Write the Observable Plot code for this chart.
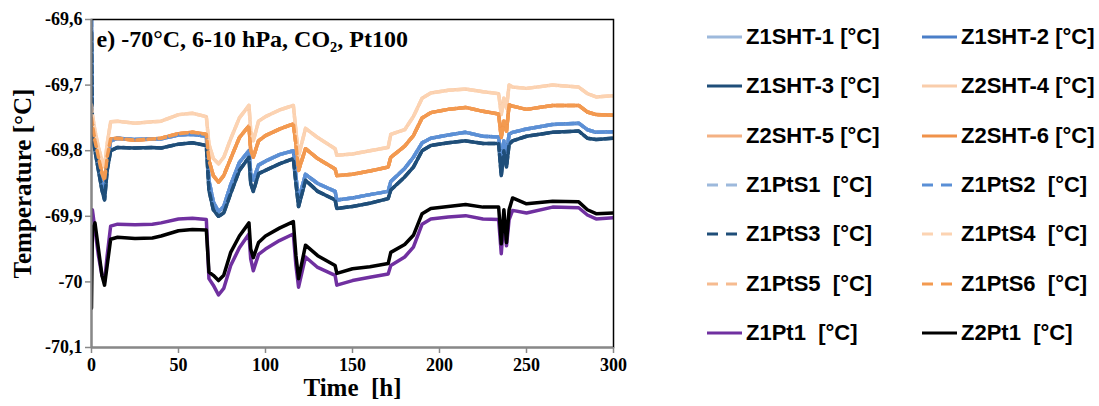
<!DOCTYPE html>
<html>
<head>
<meta charset="utf-8">
<script src="https://cdn.jsdelivr.net/npm/d3@7"></script>
<script src="https://cdn.jsdelivr.net/npm/@observablehq/plot@0.6"></script>
<style>
  html, body { margin: 0; padding: 0; background: #fff; }
  #wrap { position: relative; width: 1099px; height: 406px; overflow: hidden; }
  #chart { position: absolute; left: 0; top: 0; }
  .lg { position: absolute; display: flex; align-items: center; font-family: "Liberation Sans", Arial, sans-serif; font-weight: bold; font-size: 22px; color: #000; white-space: pre; }
  .lg svg { margin-right: 3px; }
</style>
</head>
<body>
<div id="wrap"><div id="chart"></div></div>
<script>
// ---- data ----
const time = [0, 0.5, 2, 4, 6, 7.5, 9, 11, 15, 25, 35, 40, 50, 58, 66, 67.5, 70, 73, 76, 80, 85, 90.5, 91.5, 93, 96, 100, 108, 116, 117.5, 119, 123, 130, 140, 141, 150, 160, 170.5, 172, 180, 185, 190, 195, 205, 215, 225, 234, 235.5, 237, 238.5, 240, 242, 250, 265, 280, 285, 290, 300];

const z2pt1 = [-70.04, -69.92, -69.91, -69.95, -69.99, -70.005, -69.975, -69.935, -69.932, -69.934, -69.933, -69.93, -69.922, -69.92, -69.921, -69.985, -69.99, -69.998, -69.99, -69.955, -69.93, -69.91, -69.95, -69.963, -69.94, -69.93, -69.918, -69.908, -69.96, -69.995, -69.944, -69.96, -69.975, -69.987, -69.98, -69.977, -69.972, -69.955, -69.943, -69.929, -69.896, -69.888, -69.885, -69.882, -69.886, -69.886, -69.942, -69.89, -69.94, -69.89, -69.872, -69.881, -69.877, -69.878, -69.89, -69.896, -69.895];

const z1pt1 = [-69.89, -69.89, -69.92, -69.96, -69.99, -70.0, -69.96, -69.915, -69.912, -69.913, -69.912, -69.91, -69.904, -69.903, -69.905, -69.995, -70.005, -70.02, -70.01, -69.975, -69.948, -69.927, -69.965, -69.983, -69.958, -69.95, -69.937, -69.927, -69.975, -70.008, -69.962, -69.978, -69.99, -70.005, -69.998, -69.993, -69.988, -69.975, -69.962, -69.947, -69.912, -69.904, -69.901, -69.899, -69.904, -69.905, -69.957, -69.905, -69.945, -69.905, -69.891, -69.895, -69.886, -69.887, -69.898, -69.904, -69.902];

const darkBlue = [-69.62, -69.77, -69.80, -69.83, -69.86, -69.875, -69.83, -69.80, -69.795, -69.796, -69.795, -69.796, -69.79, -69.788, -69.792, -69.86, -69.89, -69.90, -69.895, -69.865, -69.83, -69.81, -69.85, -69.862, -69.835, -69.83, -69.82, -69.812, -69.85, -69.885, -69.845, -69.862, -69.875, -69.888, -69.885, -69.88, -69.873, -69.86, -69.84, -69.825, -69.80, -69.792, -69.788, -69.785, -69.789, -69.789, -69.838, -69.80, -69.825, -69.79, -69.785, -69.778, -69.772, -69.77, -69.781, -69.783, -69.781];

const lightBlue = [-69.60, -69.76, -69.79, -69.82, -69.85, -69.865, -69.82, -69.785, -69.781, -69.783, -69.782, -69.782, -69.776, -69.775, -69.778, -69.845, -69.878, -69.893, -69.885, -69.852, -69.818, -69.80, -69.835, -69.845, -69.822, -69.816, -69.806, -69.80, -69.84, -69.875, -69.836, -69.85, -69.862, -69.875, -69.872, -69.867, -69.862, -69.847, -69.827, -69.81, -69.788, -69.781, -69.776, -69.772, -69.778, -69.779, -69.815, -69.785, -69.805, -69.775, -69.772, -69.767, -69.76, -69.758, -69.768, -69.772, -69.771];

const orange = [-69.75, -69.76, -69.785, -69.81, -69.835, -69.845, -69.81, -69.782, -69.781, -69.784, -69.782, -69.781, -69.774, -69.772, -69.775, -69.815, -69.838, -69.848, -69.838, -69.812, -69.78, -69.762, -69.80, -69.81, -69.785, -69.777, -69.767, -69.759, -69.79, -69.83, -69.797, -69.812, -69.828, -69.838, -69.836, -69.831, -69.825, -69.81, -69.793, -69.777, -69.75, -69.742, -69.737, -69.734, -69.74, -69.744, -69.78, -69.755, -69.77, -69.73, -69.732, -69.737, -69.731, -69.731, -69.741, -69.745, -69.746];

const peach = [-69.73, -69.745, -69.77, -69.795, -69.815, -69.825, -69.79, -69.756, -69.755, -69.758, -69.756, -69.755, -69.745, -69.743, -69.748, -69.79, -69.812, -69.82, -69.81, -69.782, -69.75, -69.731, -69.77, -69.785, -69.755, -69.748, -69.738, -69.731, -69.77, -69.808, -69.766, -69.78, -69.797, -69.807, -69.805, -69.80, -69.795, -69.775, -69.768, -69.748, -69.72, -69.712, -69.708, -69.706, -69.71, -69.713, -69.745, -69.72, -69.735, -69.70, -69.703, -69.705, -69.70, -69.703, -69.713, -69.718, -69.716];

const seriesNames = ["Z1SHT-1 [°C]", "Z1SHT-2 [°C]", "Z1SHT-3 [°C]", "Z2SHT-4 [°C]", "Z2SHT-5 [°C]", "Z2SHT-6 [°C]",
  "Z1PtS1  [°C]", "Z1PtS2  [°C]", "Z1PtS3  [°C]", "Z1PtS4  [°C]", "Z1PtS5  [°C]", "Z1PtS6  [°C]", "Z1Pt1  [°C]", "Z2Pt1  [°C]"];
const seriesValues = [lightBlue, lightBlue, darkBlue, peach, orange, orange,
  lightBlue, lightBlue, darkBlue, peach, orange, orange, z1pt1, z2pt1];
const seriesColors = ["#9db9dc", "#4a7ec8", "#1f4e79", "#f9cdab", "#f4b183", "#f0924a",
  "#9db9dc", "#5a8fd6", "#1f4e79", "#fcd3b2", "#f6bb90", "#f39a50", "#7030a0", "#000000"];
const seriesDashed = [false, false, false, false, false, false, true, true, true, true, true, true, false, false];

const xTicks = [0, 50, 100, 150, 200, 250, 300];
const yTicks = [-70.1, -70, -69.9, -69.8, -69.7, -69.6];
const titleText = "e) -70°C, 6-10 hPa, CO₂, Pt100";
const xLabel = "Time  [h]";
const yLabel = "Temperature [°C]";

// ---- build ----
const fmt = d => String(+d.toFixed(1)).replace(".", ",");
const drawOrder = [4, 10, 0, 1, 2, 3, 5, 6, 7, 8, 9, 11, 12, 13];
const lineMarks = drawOrder.map(k => {
  const rows = time.map((t, i) => ({t, v: seriesValues[k][i]}));
  return Plot.line(rows, {x: "t", y: "v", stroke: seriesColors[k], strokeWidth: 3.5,
    strokeDasharray: seriesDashed[k] ? "7,4" : null, clip: true, curve: "linear"});
});

const plot = Plot.plot({
  width: 640, height: 406,
  marginLeft: 91, marginTop: 19, marginRight: 27, marginBottom: 59,
  style: {fontFamily: "'Liberation Serif', 'Times New Roman', serif", fontSize: "18px", fontWeight: "bold", color: "#000", background: "#fff"},
  x: {domain: [0, 300]},
  y: {domain: [-70.1, -69.6]},
  marks: [
    ...lineMarks,
    Plot.frame({stroke: "#000", strokeWidth: 1.5}),
    Plot.ruleX([0], {stroke: "#888", strokeWidth: 2}),
    Plot.ruleY([-70.1], {stroke: "#888", strokeWidth: 2}),
    Plot.axisX({ticks: xTicks, tickFormat: fmt, tickSize: 6, tickPadding: 5, stroke: "#888", strokeWidth: 1.5, fill: "#000", label: null}),
    Plot.axisY({ticks: yTicks, tickFormat: fmt, tickSize: 6, tickPadding: 3, stroke: "#888", strokeWidth: 1.5, fill: "#000", label: null}),
    Plot.text([titleText], {frameAnchor: "top-left", dx: 5, dy: 20, textAnchor: "start", lineAnchor: "middle", fontSize: 24, fontWeight: "bold", fill: "#000"}),
    Plot.text([yLabel], {frameAnchor: "left", dx: -69, rotate: -90, textAnchor: "middle", fontSize: 25, fontWeight: "bold", fill: "#000"}),
    Plot.text([xLabel], {frameAnchor: "bottom", dy: 48, textAnchor: "middle", fontSize: 25, fontWeight: "bold", fill: "#000"})
  ]
});
document.getElementById("chart").appendChild(plot);

// ---- legend (two columns) ----
const wrap = document.getElementById("wrap");
const colX = [707, 922];
const rowY0 = 37, rowStep = 49.3;
seriesNames.forEach((name, k) => {
  const col = k % 2, row = Math.floor(k / 2);
  const el = document.createElement("div");
  el.className = "lg";
  el.style.left = colX[col] + "px";
  el.style.top = (rowY0 + row * rowStep - 15) + "px";
  el.style.height = "30px";
  const dash = seriesDashed[k] ? ' stroke-dasharray="11,8"' : "";
  el.innerHTML = `<svg width="36" height="30"><line x1="0" x2="35" y1="15" y2="15" stroke="${seriesColors[k]}" stroke-width="3"${dash}/></svg><span>${name}</span>`;
  wrap.appendChild(el);
});
</script>
</body>
</html>
